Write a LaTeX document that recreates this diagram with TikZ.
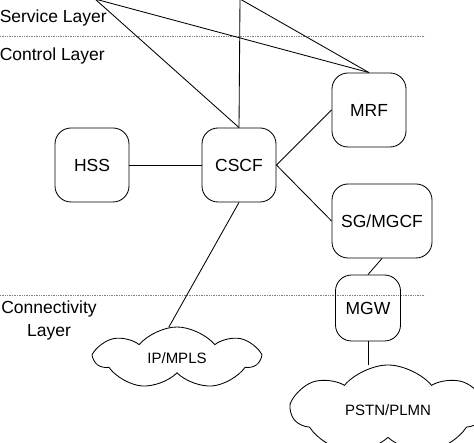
\documentclass[tikz,border=0pt]{standalone}
\usepackage{fontspec}
\setmainfont{Liberation Sans}
\usetikzlibrary{shapes.symbols}

\begin{document}
\begin{tikzpicture}[x=1pt, y=-1pt, line width=0.85pt,
        element/.style={draw, rounded corners=16pt, minimum width=74pt, minimum height=74pt, inner sep=0pt, font=\fontsize{17.5}{20}\selectfont},
        network/.style={draw, cloud, cloud puffs=7, cloud puff arc=100, cloud ignores aspect, inner sep=0pt, font=\fontsize{15}{18}\selectfont},
        layer/.style={font=\fontsize{17.5}{23}\selectfont, align=center},
        border/.style={densely dotted, gray, line width=0.7pt}]
            \useasboundingbox (0,0) rectangle (474,443);

            % layer borders and names
            \draw[border] (0,36) -- (425,36);
            \draw[border] (0,295) -- (425,295);
            \node[layer, anchor=west] (service) at (-4,18) {Service Layer};
            \node[layer, anchor=west] (control) at (-4,56) {Control Layer};
            \node[layer] (connectivity) at (49,320) {Connectivity\\Layer};

            \node[element] (hss) at (92,165) {HSS};
            \node[element] (cscf) at (239,165) {CSCF};
            \node[element] (mrf) at (369,110) {MRF};
            \node[element, minimum width=100pt] (sgmgcf) at (382,221) {SG/MGCF};
            \node[element, minimum width=65pt, minimum height=66pt] (mgw) at (368,308) {MGW};
            \node[network, minimum width=163pt, minimum height=62pt] (ipmpls) at (177,358) {IP/MPLS};
            \node[network, minimum width=192pt, minimum height=90pt] (pstn) at (388,410) {PSTN/PLMN};

            \coordinate (up1) at (95,-1);
            \coordinate (up2) at (240,-1);

            \draw (up1) -- (cscf.north) (up1) -- (mrf.north);
            \draw (up2) -- (cscf.north) (up2) -- (mrf.north);
            \draw (hss) -- (cscf);
            \draw (cscf.east) -- (mrf.west);
            \draw (cscf.east) -- (sgmgcf.west);
            \draw (sgmgcf.south) -- (mgw.north);
            \draw (mgw.south) -- (mgw.south |- pstn.north);
            \draw (cscf.south) -- (ipmpls.105);
        \end{tikzpicture}
\end{document}
